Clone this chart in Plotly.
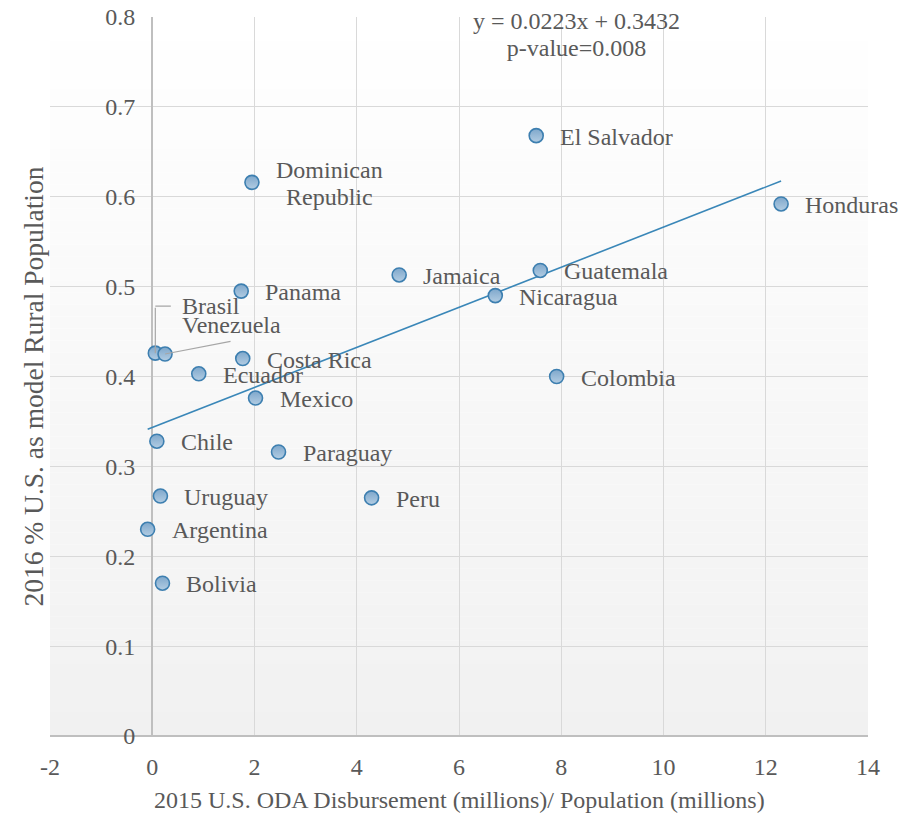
import plotly.graph_objects as go

# ---------------- data ----------------
countries = ["El Salvador", "Dominican Republic", "Honduras", "Jamaica", "Guatemala",
             "Nicaragua", "Panama", "Brasil", "Venezuela", "Costa Rica", "Ecuador",
             "Colombia", "Mexico", "Chile", "Paraguay", "Uruguay", "Peru",
             "Argentina", "Bolivia"]
oda_per_capita = [7.51, 1.95, 12.30, 4.83, 7.59, 6.71, 1.74, 0.06, 0.25, 1.77, 0.91,
                  7.91, 2.02, 0.09, 2.47, 0.16, 4.29, -0.09, 0.20]
rural_pct = [0.668, 0.616, 0.592, 0.513, 0.518, 0.490, 0.495, 0.426, 0.425, 0.420, 0.403,
             0.400, 0.376, 0.328, 0.316, 0.267, 0.265, 0.230, 0.170]
trend_slope = 0.0223
trend_intercept = 0.3432
p_value = 0.008

x_ticks = [-2, 0, 2, 4, 6, 8, 10, 12, 14]
x_tick_labels = ["-2", "0", "2", "4", "6", "8", "10", "12", "14"]
y_ticks = [0, 0.1, 0.2, 0.3, 0.4, 0.5, 0.6, 0.7, 0.8]
y_tick_labels = ["0", "0.1", "0.2", "0.3", "0.4", "0.5", "0.6", "0.7", "0.8"]

x_title = "2015 U.S. ODA Disbursement (millions)/ Population (millions)"
y_title = "2016 % U.S. as model Rural Population"

# ---------------- style ----------------
FONT = "Liberation Serif, Times New Roman, serif"
TXT = "#595959"
GRID = "#d9d9d9"
AXIS = "#bfbfbf"
W, H = 909, 813
M = dict(l=50, r=41, t=17, b=77)


def tight(s, size=24):
    # wrap each line so that the line spacing follows a smaller base size
    return "<br>".join(f'<span style="font-size:{size}px">{p}</span>' for p in s.split("<br>"))


fig = go.Figure()

# gradient plot background (white -> light gray)
nb = 60
for i in range(nb):
    f = i / nb
    c = int(round(241 + (255 - 241) * (f + 0.5 / nb)))
    fig.add_shape(type="rect", xref="x domain", yref="y domain",
                  x0=0, x1=1, y0=f, y1=f + 1.0 / nb,
                  fillcolor=f"rgb({c},{c},{c})", line=dict(width=0), layer="below")

# trendline
x0, x1 = min(oda_per_capita), max(oda_per_capita)
fig.add_trace(go.Scatter(
    x=[x0, x1], y=[trend_slope * x0 + trend_intercept, trend_slope * x1 + trend_intercept],
    mode="lines", line=dict(color="#3a87b8", width=1.6), hoverinfo="skip", showlegend=False))

# points
fig.add_trace(go.Scatter(
    x=oda_per_capita, y=rural_pct, mode="markers", text=countries,
    marker=dict(size=14, color="#7ea7cb",
                gradient=dict(type="vertical", color="#b3cde3"),
                line=dict(color="#3d7fb0", width=1.6)),
    showlegend=False))

# labels
special = {
    "Brasil": dict(xshift=25, yshift=47),
    "Venezuela": dict(xshift=15, yshift=29),
}
for name, xv, yv in zip(countries, oda_per_capita, rural_pct):
    off = special.get(name, dict(xshift=22, yshift=-1))
    label = name.replace("Dominican Republic", "Dominican<br>Republic")
    fig.add_annotation(x=xv, y=yv, text=tight(label), showarrow=False,
                       xanchor="left", yanchor="middle", align="center",
                       font=dict(family=FONT, size=21, color=TXT), **off)

# leader lines
ib = countries.index("Brasil")
iv = countries.index("Venezuela")
lead = dict(showarrow=True, arrowhead=0, arrowwidth=1.2, arrowcolor="#a6a6a6",
            standoff=0, text="")
fig.add_annotation(x=oda_per_capita[ib], y=rural_pct[ib], ax=0, ay=-47, **lead)
fig.add_annotation(x=oda_per_capita[ib], y=rural_pct[ib], yshift=47, ax=17, ay=0, **lead)
fig.add_annotation(x=oda_per_capita[iv], y=rural_pct[iv], ax=67, ay=-13, **lead)

# equation
fig.add_annotation(xref="paper", yref="paper", x=0.644, y=1, yanchor="middle", xanchor="center",
                   yshift=-17, showarrow=False, align="center",
                   text=tight(f"y = {trend_slope}x + {trend_intercept}<br>p-value={p_value}"),
                   font=dict(family=FONT, size=21, color=TXT))

# axis titles
fig.add_annotation(xref="paper", yref="paper", x=0.5, y=0, yshift=-64, showarrow=False,
                   xanchor="center", yanchor="middle",
                   text=x_title, font=dict(family=FONT, size=24, color=TXT))
fig.add_annotation(xref="paper", yref="paper", x=0, y=0.486, xshift=-16, showarrow=False,
                   xanchor="center", yanchor="middle",
                   textangle=-90, text=y_title, font=dict(family=FONT, size=27.5, color=TXT))

fig.update_layout(
    width=W, height=H, margin=M,
    paper_bgcolor="white", plot_bgcolor="rgba(0,0,0,0)",
    font=dict(family=FONT, size=24, color=TXT),
    xaxis=dict(range=[-2, 14], tickvals=x_ticks, ticktext=x_tick_labels,
               showgrid=True, gridcolor=GRID, gridwidth=1.3,
               zeroline=True, zerolinecolor=AXIS, zerolinewidth=1.5,
               showline=False, ticks="", ticklabelstandoff=14, automargin=False,
               tickfont=dict(family=FONT, size=24, color=TXT)),
    yaxis=dict(range=[0, 0.8], tickvals=y_ticks, ticktext=y_tick_labels,
               anchor="free", position=(0 - (-2)) / 16,
               showgrid=True, gridcolor=GRID, gridwidth=1.3,
               zeroline=True, zerolinecolor=AXIS, zerolinewidth=1.5,
               showline=False, ticks="", ticklabelstandoff=17, automargin=False,
               tickfont=dict(family=FONT, size=24, color=TXT)),
)

fig.write_html("out.html", config={"displayModeBar": False},
               post_script="document.body.style.margin='0';")
